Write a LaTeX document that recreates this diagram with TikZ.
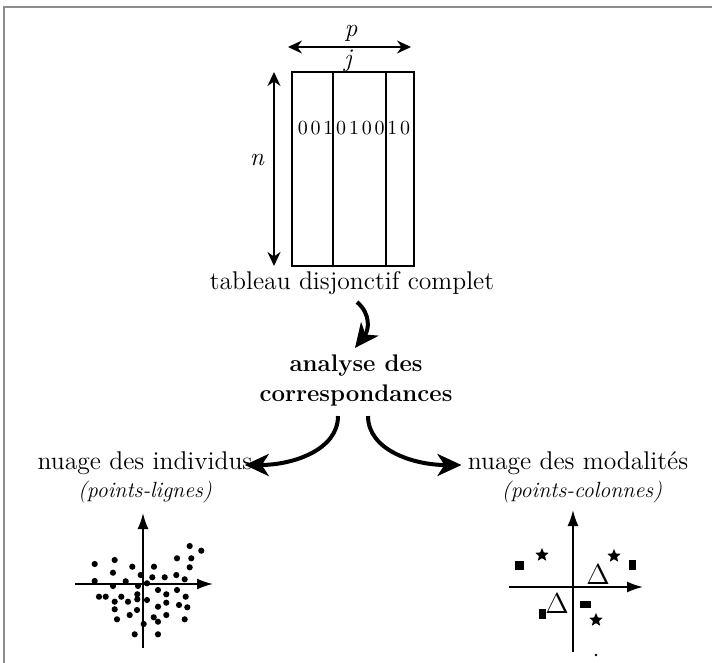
\documentclass[tikz,border=0pt]{standalone}
\usetikzlibrary{arrows.meta,shapes.geometric}
\begin{document}
\begin{tikzpicture}[
  x=0.5pt, y=-0.5pt,
  every node/.style={inner sep=0pt, font=\fontsize{12.8}{15}\selectfont},
  emph/.style={font=\fontsize{11}{13}\selectfont\itshape},
  dimarrow/.style={{Stealth[length=7pt,width=6.5pt]}-{Stealth[length=7pt,width=6.5pt]}, line width=0.9pt},
  flow/.style={-{Stealth[length=12pt,width=11pt,inset=3.5pt]}, line width=2pt},
  axis/.style={-{Latex[length=8pt,width=5.5pt]}, line width=0.9pt},
  pnt/.style={circle, fill, minimum size=3.1pt},
  modsq/.style={rectangle, fill},
  modstar/.style={star, star points=5, star point ratio=2.2, fill, minimum size=7pt},
  modtri/.style={font=\fontsize{14}{14}\selectfont}
]
\useasboundingbox (0,0) rectangle (712,663);
\draw[black!45, line width=0.7pt] (4,663) -- (4,7) -- (712,7);

\draw[line width=1pt] (292,72) rectangle (414,266);
\draw[line width=1pt] (333,72) -- (333,266) (386,72) -- (386,266);
\foreach \d [count=\i] in {0,0,1,0,1,0,0,1,0}
  \node[font=\fontsize{10}{12}\selectfont] (b\i) at ({290+12.8*\i},128) {\d};
\draw[dimarrow] (288,47) -- (411,47);
\draw[dimarrow] (274,72) -- (274,266);
\node (p) at (351,33) {\itshape p};
\node (j) at (348,61) {\itshape j};
\node (n) at (257,160) {\itshape n};

\node (tdc) at (352,283) {tableau disjonctif complet};
\node[align=center, font=\fontsize{12}{15}\selectfont\bfseries] (acp) at (356,380) {analyse des\\correspondances};
\node (ni) at (145,463) {nuage des individus};
\node[emph] (pl) at (145,492) {(points-lignes)};
\node (nm) at (578,463) {nuage des modalit\'es};
\node[emph] (pc) at (582,492) {(points-colonnes)};

\draw[flow] ([shift={(5,7)}]tdc.south) .. controls +(14,12) and +(14,-18) .. ([shift={(-1,-6)}]acp.north);
\draw[flow] ([shift={(-18,10)}]acp.south) .. controls +(0,34) and +(48,0) .. ([shift={(-8,2)}]ni.east);
\draw[flow] ([shift={(12,10)}]acp.south) .. controls +(0,34) and +(-48,0) .. ([shift={(-6,2)}]nm.west);

\begin{scope}[shift={(143,584)}]
\draw[axis] (-68,0) -- (70,0);
\draw[axis] (0,64) -- (0,-71);
\foreach \dx/\dy [count=\i] in {46.7/-38, 58.3/-33.3, 34/-25.7, 48.3/-25.7, -48.3/-20,
    -28.3/-24, -10.7/-17.3, 11/-17.3, 46.7/-16.7, -30/-11.3, -2.3/-9, 9.3/-6.7,
    21.7/-6.7, 33.3/-9, 41.7/-4.7, -48.3/-3, -17.3/-2.7, -30/2, -5/2, 4/-0.7,
    15/6, 34/6, -44/12.7, -37.3/12.7, -21.7/12.7, -5.7/10.3, 23.3/10.3, 42.7/12.7,
    -28.3/17.7, -15/17.7, -5.7/15.3, 4/16, 23.3/18.7, 15/22.7, 36/21, 44.3/23.3,
    -28.3/25.3, -6/26, -13.3/31, 23.3/31, 10.7/33.3, 15/37.7, -26/35.3, 41.7/35.3,
    0.7/40, -8.3/50.3, 15/50.3}
  \node[pnt] (d\i) at (\dx,\dy) {};
\end{scope}

\begin{scope}[shift={(573,587)}]
\draw[axis] (-64,0) -- (70,0);
\draw[axis] (0,65) -- (0,-77);
\node[modsq, minimum width=4.5pt, minimum height=4.5pt] (m1) at (-54,-22) {};
\node[modsq, minimum width=3.5pt, minimum height=5pt] (m2) at (59,-22) {};
\node[modsq, minimum width=3.5pt, minimum height=5pt] (m3) at (-31,27) {};
\node[modsq, minimum width=5.5pt, minimum height=3.5pt] (m4) at (12,17) {};
\node[modstar] (s1) at (-31,-32) {};
\node[modstar] (s2) at (41,-31) {};
\node[modstar] (s3) at (23,33) {};
\node[modtri] (t1) at (25,-12) {$\Delta$};
\node[modtri] (t2) at (-16,17) {$\Delta$};
\node[pnt, minimum size=1.3pt] (e1) at (23,68) {};
\end{scope}
\end{tikzpicture}
\end{document}
